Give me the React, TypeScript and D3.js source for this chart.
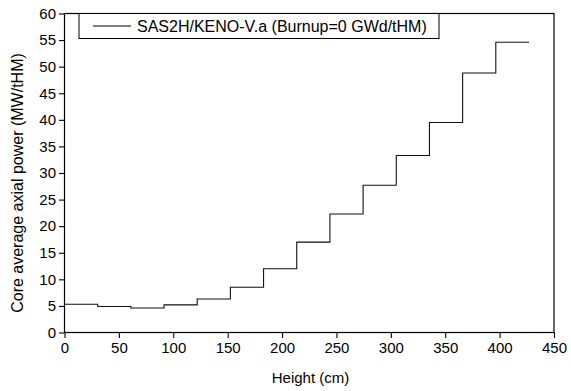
import { useEffect, useRef } from "react";
import * as d3 from "d3";

// axial node boundaries (cm) and average power per node (MW/tHM)
const edges = [0, 30.5, 61, 91.5, 122, 152.5, 183, 213.5, 244, 274.5, 305, 335.5, 366, 396.5, 427];
const power = [5.3, 4.9, 4.6, 5.2, 6.3, 8.5, 12.0, 17.0, 22.3, 27.7, 33.3, 39.5, 48.8, 54.6];
const xTicks = [0, 50, 100, 150, 200, 250, 300, 350, 400, 450];
const yTicks = [0, 5, 10, 15, 20, 25, 30, 35, 40, 45, 50, 55, 60];
const legendLabel = "SAS2H/KENO-V.a (Burnup=0 GWd/tHM)";

export default function App() {
  const ref = useRef<SVGSVGElement | null>(null);

  useEffect(() => {
    if (!ref.current) return;
    const svg = d3.select(ref.current);
    svg.selectAll("*").remove();

    const left = 64.5, right = 554, top = 13.5, bottom = 332.5;
    const x = d3.scaleLinear().domain([0, 450]).range([left, right]);
    const y = d3.scaleLinear().domain([0, 60]).range([bottom, top]);
    const font = "Arial, 'Liberation Sans', sans-serif";
    const fs = 15;

    // step line
    const pts: [number, number][] = [];
    power.forEach((v, i) => {
      pts.push([edges[i], v]);
      pts.push([edges[i + 1], v]);
    });
    svg.append("path")
      .attr("d", d3.line<[number, number]>().x((d) => x(d[0])).y((d) => y(d[1]))(pts))
      .attr("fill", "none")
      .attr("stroke", "#111")
      .attr("stroke-width", 1.1);

    // frame
    svg.append("rect")
      .attr("x", left).attr("y", top)
      .attr("width", right - left).attr("height", bottom - top)
      .attr("fill", "none").attr("stroke", "#000").attr("stroke-width", 1.2);

    // x axis
    const xa = svg.append("g").attr("transform", `translate(0,${bottom})`);
    xa.call(d3.axisBottom(x).tickValues(d3.range(25, 450, 50)).tickSize(3).tickFormat(() => ""));
    xa.call(d3.axisBottom(x).tickValues(xTicks).tickSize(5.5).tickPadding(4).tickFormat(d3.format("d")));
    xa.selectAll(".domain").remove();
    xa.selectAll("line").attr("stroke", "#000").attr("stroke-width", 1.1);
    xa.selectAll("text").attr("font-family", font).attr("font-size", fs).attr("fill", "#000");

    // y axis
    const ya = svg.append("g").attr("transform", `translate(${left},0)`);
    ya.call(d3.axisLeft(y).tickValues(d3.range(2.5, 60, 5)).tickSize(3).tickFormat(() => ""));
    ya.call(d3.axisLeft(y).tickValues(yTicks).tickSize(5.5).tickPadding(3).tickFormat(d3.format("d")));
    ya.selectAll(".domain").remove();
    ya.selectAll("line").attr("stroke", "#000").attr("stroke-width", 1.1);
    ya.selectAll("text").attr("font-family", font).attr("font-size", fs).attr("fill", "#000");

    // axis titles
    svg.append("text")
      .attr("x", 310.5).attr("y", 383)
      .attr("text-anchor", "middle")
      .attr("font-family", font).attr("font-size", fs)
      .text("Height (cm)");
    svg.append("text")
      .attr("transform", `translate(23,183) rotate(-90)`)
      .attr("text-anchor", "middle")
      .attr("font-family", font).attr("font-size", 16)
      .text("Core average axial power (MW/tHM)");

    // legend
    const lg = svg.append("g");
    lg.append("rect")
      .attr("x", 79).attr("y", top)
      .attr("width", 360).attr("height", 25)
      .attr("fill", "#fff").attr("stroke", "#000").attr("stroke-width", 1);
    lg.append("line")
      .attr("x1", 93).attr("x2", 131).attr("y1", 26).attr("y2", 26)
      .attr("stroke", "#000").attr("stroke-width", 1);
    lg.append("text")
      .attr("x", 137).attr("y", 31.5)
      .attr("font-family", font).attr("font-size", 16)
      .text(legendLabel);
  }, []);

  return (
    <svg
      ref={ref}
      width={571}
      height={391}
      style={{ display: "block", position: "absolute", left: 0, top: 0, background: "#fff" }}
    />
  );
}
